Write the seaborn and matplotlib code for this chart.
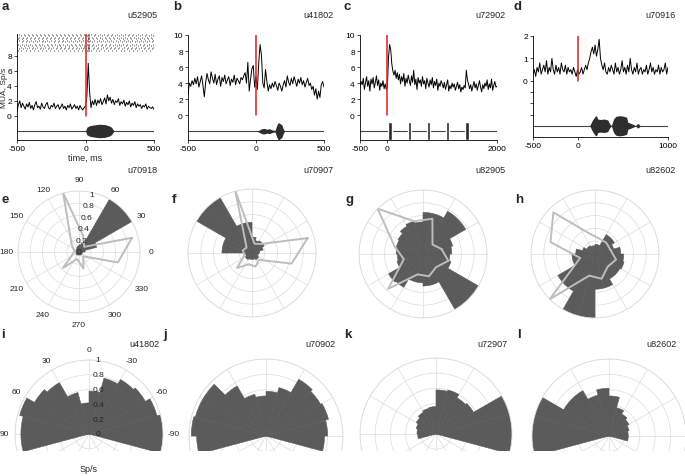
import numpy as np
import pandas as pd
import matplotlib
matplotlib.use("Agg")
import matplotlib.pyplot as plt
import matplotlib.transforms as mtransforms
import seaborn as sns
from matplotlib.patches import Rectangle

# ------------------------------------------------------------------ data
# panel a : PSTH (10 ms bins, -500..500 ms)
a_rate = [0.6,1.5,2.0,1.1,1.7,1.3,0.9,1.6,1.2,1.8,
          1.0,1.4,0.8,1.5,1.9,1.1,1.3,0.9,1.7,1.2,
          1.0,1.5,1.8,1.1,0.9,1.4,1.2,1.7,1.0,1.3,
          1.5,0.9,1.2,1.6,1.0,1.3,0.8,1.4,1.1,1.6,
          0.9,1.2,1.5,1.0,1.3,0.8,1.4,1.0,0.8,1.1,
          1.3,2.6,7.0,3.2,1.1,2.0,1.5,2.2,1.4,2.1,
          1.7,2.3,1.5,1.9,2.4,1.6,2.8,2.0,2.5,1.7,
          2.2,1.5,2.0,1.8,2.3,1.4,1.9,1.6,2.1,1.3,
          1.8,1.5,2.0,1.2,1.7,1.4,1.9,1.1,1.6,1.3,
          1.5,1.0,1.4,1.2,1.6,0.9,1.3,1.1,1.0,1.2,0.9]
# panel a : raster (spike times, ms)
a_raster = [
    [-495,-468,-431,-402,-377,-349,-318,-290,-262,-228,-199,-171,-140,-112,-83,-55,-27,-4,14,19,24,41,73,102,134,161,193,222,256,284,317,348,379,411,440,471,497],
    [-487,-455,-426,-393,-366,-335,-307,-276,-249,-217,-189,-158,-129,-101,-70,-44,-16,16,22,52,86,115,148,176,207,239,268,301,330,362,394,424,455,486],
    [-499,-472,-440,-413,-384,-356,-324,-298,-268,-240,-208,-180,-150,-121,-93,-64,-35,-9,15,21,28,60,94,125,157,184,216,247,278,309,341,370,403,433,466,493],
    [-481,-450,-420,-388,-359,-331,-301,-271,-243,-211,-183,-152,-124,-95,-66,-38,-11,17,23,46,79,111,141,170,200,233,262,295,323,355,386,418,448,479],
    [-493,-462,-434,-405,-372,-343,-314,-284,-255,-225,-195,-166,-135,-107,-78,-49,-22,13,18,26,57,89,119,152,181,213,243,273,305,336,367,399,429,460,491],
    [-484,-458,-426,-397,-368,-338,-310,-279,-251,-221,-190,-163,-133,-104,-75,-46,-18,15,20,35,68,98,130,163,190,224,253,287,316,346,378,409,441,470,499],
    [-497,-466,-437,-409,-380,-351,-321,-293,-264,-233,-204,-175,-146,-117,-88,-59,-30,-2,16,24,49,82,113,145,174,204,236,266,297,328,359,391,422,452,483],
    [-489,-459,-429,-400,-370,-341,-312,-282,-253,-224,-194,-165,-136,-108,-79,-50,-21,14,19,31,64,96,127,158,188,219,249,281,311,343,374,405,436,467,496],
    [-494,-463,-433,-404,-375,-345,-316,-287,-257,-229,-199,-170,-141,-113,-84,-54,-25,15,21,27,55,87,118,149,179,210,241,272,303,334,365,396,427,458,488],
    [-486,-456,-427,-398,-369,-339,-309,-281,-250,-222,-192,-162,-134,-105,-74,-45,-15,17,22,44,76,107,139,168,199,230,260,291,322,352,384,415,446,477],
    [-498,-469,-439,-411,-381,-352,-323,-294,-265,-236,-206,-177,-148,-119,-90,-61,-32,-6,13,18,25,62,92,123,155,186,215,245,276,307,339,369,400,431,462,494],
    [-482,-452,-423,-394,-364,-334,-305,-276,-247,-218,-187,-159,-130,-99,-71,-41,-13,16,23,39,71,104,136,166,196,227,258,289,319,350,381,413,444,475],
]
a_snd_t = [0, 10, 30, 60, 100, 140, 170, 190, 200, 210]
a_snd_a = [0.0, 0.5, 0.7, 0.8, 0.9, 0.85, 0.7, 0.5, 0.2, 0.0]

# panel b : PSTH (10 ms bins, -500..500 ms)
b_rate = [2.6,4.0,3.6,4.3,3.8,4.6,3.9,4.8,3.5,4.2,
          4.9,3.7,2.3,4.1,5.2,4.4,3.9,5.4,4.6,4.0,
          5.1,3.8,4.5,4.9,3.6,4.7,4.2,5.0,3.9,4.4,
          4.8,3.7,4.5,4.1,5.0,3.8,4.6,4.3,3.9,4.7,
          4.4,4.9,5.3,4.0,6.6,3.0,4.5,5.8,6.2,3.5,
          4.8,3.2,6.5,8.8,7.5,4.0,3.4,5.7,4.2,3.0,
          3.8,3.3,4.0,3.5,4.2,3.7,3.1,4.0,3.6,3.0,
          3.8,4.3,3.5,4.9,4.1,3.7,4.6,3.9,4.8,4.2,
          3.6,4.5,4.0,4.7,3.8,4.3,3.5,4.1,4.6,3.7,
          4.0,3.2,3.6,2.5,3.3,2.0,3.0,2.2,3.8,4.2,3.5]
b_snd_t = [0, 20, 40, 60, 80, 100, 120, 140, 150, 160, 170, 180, 190, 200, 210]
b_snd_a = [0.0, 0.1, 0.3, 0.35, 0.25, 0.3, 0.15, 0.1, 0.6, 1.0, 1.05, 0.9, 0.8, 0.3, 0.0]

# panel c : PSTH (20 ms bins, -500..2000 ms)
c_rate = [3.5,4.2,3.8,4.6,3.2,4.0,4.8,3.6,4.3,3.0,
          4.5,3.9,4.7,3.4,4.1,4.9,3.7,4.4,3.1,4.0,
          3.6,4.3,3.3,3.9,3.2,
          3.6,7.2,8.8,8.2,6.4,5.5,5.0,5.6,4.6,5.3,
          4.4,5.1,3.9,4.8,4.2,5.2,3.6,4.6,4.0,5.0,
          4.3,3.7,4.9,4.1,5.6,3.8,4.5,3.2,4.7,4.0,
          4.4,3.6,4.8,3.9,4.3,3.3,4.6,4.0,3.5,4.4,
          3.8,4.7,3.4,4.2,3.7,4.5,3.1,4.0,3.6,4.3,
          3.9,3.4,4.1,3.2,3.8,4.4,3.0,3.7,3.3,4.0,
          3.5,3.9,3.1,3.6,4.1,3.3,3.8,2.9,3.5,3.2,
          3.7,3.4,5.6,4.4,3.9,3.3,3.8,3.0,3.6,4.2,
          3.4,3.9,3.1,3.7,4.3,3.5,2.9,3.8,3.3,4.0,
          3.6,4.4,3.2,3.9,3.4,4.5,3.1,3.7,4.2,3.5,
          3.6]
c_stim_on = [50, 400, 750, 1100, 1450]

# panel d : PSTH (15 ms bins, -500..1000 ms)
d_rate = [0.3,0.5,0.2,0.6,0.4,0.8,0.3,0.5,0.7,0.4,
          0.9,0.3,0.6,0.4,1.0,0.5,0.3,0.7,0.4,0.6,
          0.3,0.8,0.5,0.4,0.7,0.3,0.6,0.4,0.5,0.3,
          0.6,0.4,0.2,0.5,0.3,0.4,0.6,0.3,0.5,0.7,
          0.5,0.8,1.0,1.3,1.5,1.2,1.6,1.1,1.4,1.85,
          1.0,0.7,0.5,0.8,0.4,0.3,0.6,0.4,0.7,0.5,
          0.3,0.8,0.4,0.6,0.3,0.5,0.9,0.4,0.6,0.3,
          0.7,0.4,1.0,0.5,0.3,0.6,0.4,0.8,0.3,0.5,
          0.6,0.3,0.5,0.4,0.7,0.3,0.5,0.8,0.4,0.6,
          0.3,0.5,0.4,0.7,0.3,0.6,0.4,0.5,0.8,0.3,0.6]
d_snd_t = [130,160,190,205,220,250,290,330,350,370,395,420,460,500,540,555,580,620,640,660,675,690]
d_snd_a = [0,0.25,0.42,0.45,0.3,0.28,0.3,0.26,0.1,0,0.3,0.42,0.45,0.43,0.38,0.15,0.12,0.05,0,0.1,0.08,0]

# row 2 : full-circle polar histograms (15 deg bins starting 0,15,...,345)
e_bars = [0.1,0.3,1.0,1.0,0.15,0.12,0.1,0.08,0.06,0.06,0.05,0.05,0.05,0.05,0.06,0.06,0.05,0.05,0.05,0.05,0.06,0.06,0.05,0.06]
f_bars = [0.12,0.18,0.22,0.22,0.2,0.25,0.48,0.48,1.0,1.0,0.47,0.47,0.1,0.1,0.12,0.12,0.1,0.1,0.1,0.1,0.12,0.12,0.1,0.1]
g_bars = [0.45,0.48,0.77,0.77,0.65,0.65,0.5,0.53,0.5,0.45,0.43,0.42,0.4,0.42,0.62,0.6,0.45,0.45,0.5,0.5,1.0,1.0,0.45,0.42]
h_bars = [0.4,0.3,0.35,0.35,0.15,0.15,0.13,0.13,0.15,0.15,0.2,0.3,0.36,0.36,0.67,0.67,1.0,1.0,0.55,0.55,0.45,0.45,0.47,0.45]
# gray tuning lines at 15,45,...,345 deg
line_angles = [15,45,75,105,135,165,195,225,255,285,315,345]
e_line = [0.9,0.12,0.27,1.0,0.17,0.08,0.1,0.37,0.12,0.28,0.1,0.66]
f_line = [0.9,0.2,0.15,1.0,0.12,0.15,0.12,0.33,0.18,0.22,0.15,0.64]
g_line = [0.3,0.21,0.57,0.53,1.0,0.46,0.31,0.77,0.33,0.36,0.29,0.41]
h_line = [0.25,0.25,0.25,0.33,0.92,0.72,0.24,1.0,0.35,0.4,0.28,0.34]

# row 3 : half-circle histograms, bins start -105,-90,...,90 (width 15)
i_bars = [1.0,1.0,0.95,0.88,0.85,0.78,0.58,0.42,0.58,0.8,0.85,0.97,0.92,0.92]
j_bars = [0.76,0.8,0.84,0.82,0.85,0.65,0.58,0.52,0.56,0.75,0.95,0.95,0.97,0.9]
k_bars = [1.0,1.0,1.0,0.57,0.55,0.6,0.58,0.36,0.35,0.33,0.3,0.27,0.25,0.24]
l_bars = [0.25,0.25,0.27,0.3,0.33,0.38,0.52,0.62,0.55,0.68,0.68,1.0,1.0,1.0]

r_ticks = [0, 0.2, 0.4, 0.6, 0.8, 1.0]
r_tick_labels = ["0", "0.2", "0.4", "0.6", "0.8", "1"]

unit_ids_top = ["u52905", "u41802", "u72902", "u70916"]
unit_ids_mid = ["u70918", "u70907", "u82905", "u82602"]
unit_ids_bot = ["u41802", "u70902", "u72907", "u82602"]

# ------------------------------------------------------------------ style
sns.set_style("ticks")
plt.rcParams['font.family'] = ['Liberation Sans', 'DejaVu Sans']
plt.rcParams['axes.unicode_minus'] = False

W, H = 685, 477
fig = plt.figure(figsize=(W / 100, H / 100), dpi=100)
fig.patch.set_facecolor("white")

def fx(x):
    return x / W

def fy(y):
    return 1 - y / H

DARK = "#5b5b5b"
LGRAY = "#bdbdbd"
GRID = "#dcdcdc"
RED = "#e0201b"

def line_ax(l, r, t, b):
    return fig.add_axes([fx(l), fy(b), (r - l) / W, (b - t) / H])

def style_line(ax):
    sns.despine(ax=ax)
    for s in ("left", "bottom"):
        ax.spines[s].set_linewidth(0.6)
        ax.spines[s].set_color("black")
    ax.tick_params(labelsize=6, length=2.5, width=0.5, pad=1.2, colors="black")

def psth(ax, t0, step, rate):
    t = t0 + step * np.arange(len(rate))
    df = pd.DataFrame({"t": t, "rate": rate})
    sns.lineplot(data=df, x="t", y="rate", ax=ax, color="black", linewidth=0.7)
    ax.set_xlabel("")
    ax.set_ylabel("")

def sound(ax, x0, x1, st, sa, y=-2.0):
    ax.plot([x0, x1], [y, y], color="#444444", lw=0.8, zorder=2)
    st = np.array(st, float)
    sa = np.array(sa, float)
    ax.fill_between(st, y - sa, y + sa, color="#2e2e2e", lw=0, zorder=3)

# ---- panel a
ax = line_ax(17, 154, 35, 141)
psth(ax, -500, 10, a_rate)
ax.eventplot(a_raster, lineoffsets=[8.75 + 0.19 * k for k in range(len(a_raster))],
             linelengths=0.12, linewidths=0.6, colors="#222222")
sound(ax, -500, 500, a_snd_t, a_snd_a)
ax.plot([0, 0], [0, 10.9], color=RED, lw=1.1, zorder=5)
ax.set_xlim(-500, 500)
ax.set_ylim(-3.2, 10.9)
ax.set_xticks([-500, 0, 500])
ax.set_yticks([0, 2, 4, 6, 8])
style_line(ax)
ax.set_ylabel("MUA, Sp/s", fontsize=6)
ax.yaxis.set_label_coords(-0.068, 0.5)
ax.set_xlabel("time, ms", fontsize=6.5, labelpad=0.5)

# ---- panel b
ax = line_ax(188, 324, 36, 141)
psth(ax, -500, 10, b_rate)
sound(ax, -500, 500, b_snd_t, b_snd_a)
ax.plot([0, 0], [0, 10], color=RED, lw=1.1, zorder=5)
ax.set_xlim(-500, 500)
ax.set_ylim(-3.1, 10)
ax.set_xticks([-500, 0, 500])
ax.set_yticks([0, 2, 4, 6, 8, 10])
style_line(ax)

# ---- panel c
ax = line_ax(360, 497, 36, 141)
psth(ax, -500, 20, c_rate)
ax.plot([-500, 2000], [-2, -2], color="#444444", lw=0.8, zorder=2)
ax.bar(c_stim_on, [2.2] * len(c_stim_on), width=65, bottom=-3.1,
       color="#2a2a2a", zorder=3)
ax.plot([0, 0], [0, 10], color=RED, lw=1.1, zorder=5)
ax.set_xlim(-500, 2000)
ax.set_ylim(-3.1, 10)
ax.set_xticks([-500, 0, 2000])
ax.set_yticks([0, 2, 4, 6, 8, 10])
style_line(ax)

# ---- panel d
ax = line_ax(533, 668, 37, 138)
psth(ax, -500, 15, d_rate)
sound(ax, -500, 1000, d_snd_t, d_snd_a)
ax.plot([0, 0], [0, 2], color=RED, lw=1.1, zorder=5)
ax.set_xlim(-500, 1000)
ax.set_ylim(-2.5, 2.0)
ax.set_xticks([-500, 0, 1000])
ax.set_yticks([-1.5, -1, -0.5, 0, 1, 2])
ax.set_yticklabels(["", "", "", "0", "1", "2"])
style_line(ax)

# ------------------------------------------------------------------ polar
def polar_ax(cx, cy, R):
    return fig.add_axes([fx(cx - R), fy(cy + R), 2 * R / W, 2 * R / H],
                        projection="polar")

def style_polar(ax):
    ax.set_ylim(0, 1)
    ax.grid(True, color=GRID, lw=0.5)
    ax.spines["polar"].set_color(GRID)
    ax.spines["polar"].set_linewidth(0.6)
    ax.set_facecolor("none")
    ax.set_axisbelow(True)
    ax.tick_params(labelsize=6)
    ax.set_xticks(np.deg2rad(np.arange(0, 360, 30)))
    ax.set_yticks(r_ticks)
    ax.set_yticklabels([])

full_starts = np.arange(0, 360, 15)
for k, (cx, cy, R, bars, ln) in enumerate([
        (79, 253, 61, e_bars, e_line),
        (252, 254, 64, f_bars, f_line),
        (423, 255, 64, g_bars, g_line),
        (595, 255, 64, h_bars, h_line)]):
    ax = polar_ax(cx, cy, R)
    ax.bar(np.deg2rad(full_starts + 7.5), bars, width=np.deg2rad(15),
           color=DARK, edgecolor=DARK, lw=0.4, zorder=1)
    th = np.deg2rad(line_angles + line_angles[:1])
    ax.plot(th, ln + ln[:1], color=LGRAY, lw=1.4, zorder=3)
    style_polar(ax)
    if k == 0:
        ax.set_xticklabels([str(a) for a in range(0, 360, 30)])
        ax.tick_params(axis="x", pad=-2.5)
        for r, s in zip(r_ticks, r_tick_labels):
            ax.text(np.deg2rad(78), r * 0.97, s, ha="center", va="center",
                    fontsize=6, zorder=6)
    else:
        ax.set_xticklabels([])

half_starts = np.arange(-105, 105, 15)
for k, (cx, cy, R, bars) in enumerate([
        (89, 435, 74, i_bars),
        (266, 437, 77, j_bars),
        (436, 435, 76, k_bars),
        (609, 437, 77, l_bars)]):
    ax = polar_ax(cx, cy, R)
    ax.set_theta_zero_location("N")
    ax.set_theta_direction(1)
    ax.bar(np.deg2rad(half_starts + 7.5), bars, width=np.deg2rad(15),
           color=DARK, edgecolor=DARK, lw=0.4, zorder=1)
    style_polar(ax)
    if k == 0:
        labs = {0: "0", 30: "30", 60: "60", 90: "90", 270: "-90", 300: "-60", 330: "-30"}
        ax.set_xticklabels([labs.get(a, "") for a in range(0, 360, 30)])
        ax.tick_params(axis="x", pad=-3)
        off = mtransforms.offset_copy(ax.transData, fig=fig, x=9, y=0, units="dots")
        for r, s in zip(r_ticks, r_tick_labels):
            ax.text(0, r, s, ha="center", va="center", fontsize=6,
                    transform=off, zorder=6)
    else:
        ax.set_xticklabels([])

# cut the bottom row horizontally
fig.add_artist(Rectangle((0, 0), 1, fy(452), transform=fig.transFigure,
                         facecolor="white", edgecolor="none", zorder=10))

# ------------------------------------------------------------------ texts
for x, s in zip([158, 333, 506, 676], unit_ids_top):
    fig.text(fx(x), fy(16), s, ha="right", va="center", fontsize=6.5)
for x, s in zip([158, 333, 506, 676], unit_ids_mid):
    fig.text(fx(x), fy(171), s, ha="right", va="center", fontsize=6.5)
for x, s in zip([159, 335, 508, 677], unit_ids_bot):
    fig.text(fx(x), fy(345), s, ha="right", va="center", fontsize=6.5)

for x, y, s in [(2, 7, "a"), (173, 7, "b"), (344, 7, "c"), (514, 7, "d"),
                (1, 200, "e"), (172, 200, "f"), (345, 200, "g"), (515, 200, "h"),
                (1, 335, "i"), (163, 335, "j"), (344, 335, "k"), (517, 335, "l")]:
    fig.text(fx(x), fy(y), s, ha="left", va="center", fontsize=9.5,
             fontweight="bold", zorder=20)

fig.text(fx(89), fy(470), "Sp/s", ha="center", va="center", fontsize=6.5, zorder=20)

fig.savefig("out.png", dpi=100)
